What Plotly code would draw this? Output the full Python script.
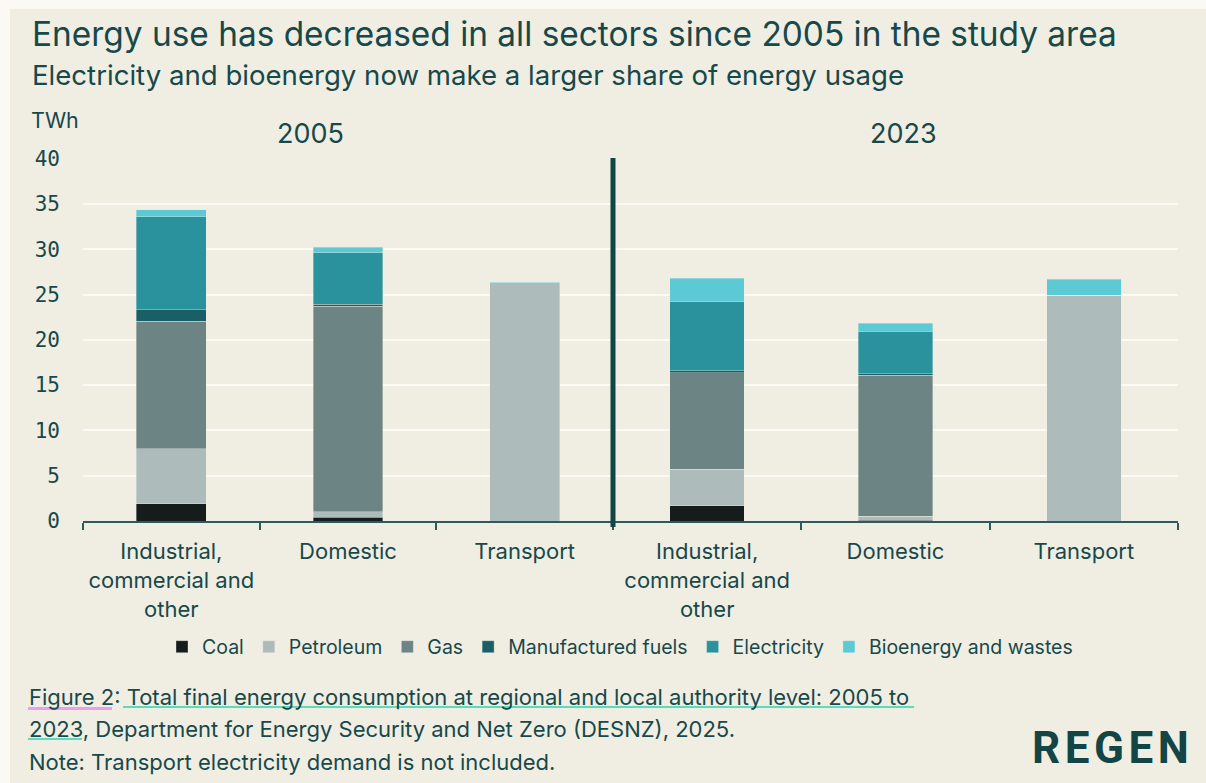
import plotly.graph_objects as go

W, H = 1206, 783

# Sectors and fuels
sectors = ["Industrial,<br>commercial and<br>other", "Domestic", "Transport"]
fuels = ["Coal", "Petroleum", "Gas", "Manufactured fuels", "Electricity", "Bioenergy and wastes"]
fuel_colors = ["#151C1B", "#ADBCBB", "#6C8584", "#1B5F66", "#2A929C", "#5BCAD5"]

# Final energy consumption, TWh (per sector: Industrial/commercial, Domestic, Transport)
coal_2005 = [1.92, 0.41, 0.0]
petroleum_2005 = [6.04, 0.62, 26.30]
gas_2005 = [14.10, 22.69, 0.0]
manufactured_2005 = [1.25, 0.22, 0.0]
electricity_2005 = [10.28, 5.67, 0.0]
bioenergy_2005 = [0.77, 0.59, 0.07]

coal_2023 = [1.69, 0.10, 0.0]
petroleum_2023 = [4.02, 0.42, 24.94]
gas_2023 = [10.64, 15.58, 0.0]
manufactured_2023 = [0.22, 0.15, 0.0]
electricity_2023 = [7.63, 4.68, 0.0]
bioenergy_2023 = [2.61, 0.92, 1.76]

years = ["2005", "2023"]

data_2005 = [coal_2005, petroleum_2005, gas_2005, manufactured_2005, electricity_2005, bioenergy_2005]
data_2023 = [coal_2023, petroleum_2023, gas_2023, manufactured_2023, electricity_2023, bioenergy_2023]

TEXT = "#17484A"
BG = "#F0EEE2"
EDGE = "#FAF9F3"
GRID = "#FBFAF4"
AXIS = "#2D5A5C"
FONT = "Inter"


def px(x):
    return x / W


def py(y):
    return 1 - y / H


fig = go.Figure()

for series, name, color in zip(data_2005, fuels, fuel_colors):
    fig.add_trace(go.Bar(x=sectors, y=series, name=name, marker_color=color,
                         marker_line_width=0.6, marker_line_color="rgba(240,238,226,0.6)",
                         legendgroup=name, showlegend=True, xaxis="x", yaxis="y"))
for series, name, color in zip(data_2023, fuels, fuel_colors):
    fig.add_trace(go.Bar(x=sectors, y=series, name=name, marker_color=color,
                         marker_line_width=0.6, marker_line_color="rgba(240,238,226,0.6)",
                         legendgroup=name, showlegend=False, xaxis="x2", yaxis="y2"))

y_dom = [py(521), py(158.7)]
xcommon = dict(type="category", showline=True, linecolor=AXIS, linewidth=2,
               ticks="outside", tickson="boundaries", ticklen=7, tickwidth=2,
               tickcolor=AXIS, showgrid=False, zeroline=False, automargin=False,
               tickfont=dict(family=FONT, size=22, color=TEXT),
               ticklabelstandoff=10, fixedrange=True)
ycommon = dict(range=[0, 40], dtick=5, showgrid=True, gridcolor=GRID, gridwidth=2,
               zeroline=False, showline=False, domain=y_dom, fixedrange=True,
               automargin=False)

fig.update_layout(
    width=W, height=H, autosize=False, margin=dict(l=0, r=0, t=0, b=0, pad=0),
    paper_bgcolor=EDGE, plot_bgcolor="rgba(0,0,0,0)",
    barmode="stack", bargap=0.604,
    xaxis=dict(domain=[px(83), px(613)], anchor="y", **xcommon),
    xaxis2=dict(domain=[px(613), px(1178)], anchor="y2", **xcommon),
    yaxis=dict(anchor="x", ticks="", showticklabels=True, ticklabelstandoff=22,
               tickfont=dict(family="DejaVu Sans Mono", size=21, color=TEXT), **ycommon),
    yaxis2=dict(anchor="x2", showticklabels=False, **ycommon),
    legend=dict(orientation="h", x=px(620), xanchor="center", y=py(647), yanchor="middle",
                font=dict(family=FONT, size=19.5, color=TEXT), bgcolor="rgba(0,0,0,0)",
                traceorder="normal", itemwidth=30),
    font=dict(family=FONT, color=TEXT),
)

shapes = [
    # panel background with light edge on the left and top
    dict(type="rect", xref="paper", yref="paper", x0=px(10), x1=1, y0=0, y1=py(9),
         fillcolor=BG, line_width=0, layer="below"),
    # divider between years
    dict(type="line", xref="paper", yref="paper", x0=px(613), x1=px(613),
         y0=py(527), y1=py(158), line=dict(color="#134446", width=5)),
    # underlines for the source link
    dict(type="line", xref="paper", yref="paper", x0=px(28), x1=px(112), y0=py(708.5), y1=py(708.5),
         line=dict(color="#EE9CF0", width=3)),
    dict(type="line", xref="paper", yref="paper", x0=px(123), x1=px(914), y0=py(707), y1=py(707),
         line=dict(color="#2CD3AE", width=1.5)),
    dict(type="line", xref="paper", yref="paper", x0=px(28), x1=px(82), y0=py(739), y1=py(739),
         line=dict(color="#2CD3AE", width=1.5)),
]
fig.update_layout(shapes=shapes)


def note(text, x, y, size, xanchor="left", family=FONT, color=TEXT, weight=None):
    f = dict(family=family, size=size, color=color)
    if weight:
        f["weight"] = weight
    fig.add_annotation(text=text, x=px(x), y=py(y), xref="paper", yref="paper",
                       xanchor=xanchor, yanchor="middle", showarrow=False, font=f)


note("Energy use has decreased in all sectors since 2005 in the study area", 30, 34, 33.4)
note("Electricity and bioenergy now make a larger share of energy usage", 30, 75, 27.6)
note("TWh", 29, 120, 21.5)
note(years[0], 310, 134, 27, xanchor="center")
note(years[1], 903, 134, 27, xanchor="center")
note("Figure 2: Total final energy consumption at regional and local authority level: 2005 to", 27, 697, 22)
note("2023, Department for Energy Security and Net Zero (DESNZ), 2025.", 27, 729, 22)
note("Note: Transport electricity demand is not included.", 27, 762, 22)
note("R\u200aE\u200aG\u200aE\u200aN", 1110, 748, 44, xanchor="center", family="Roboto",
     color="#134446", weight=700)

fig.write_html("out.html")
